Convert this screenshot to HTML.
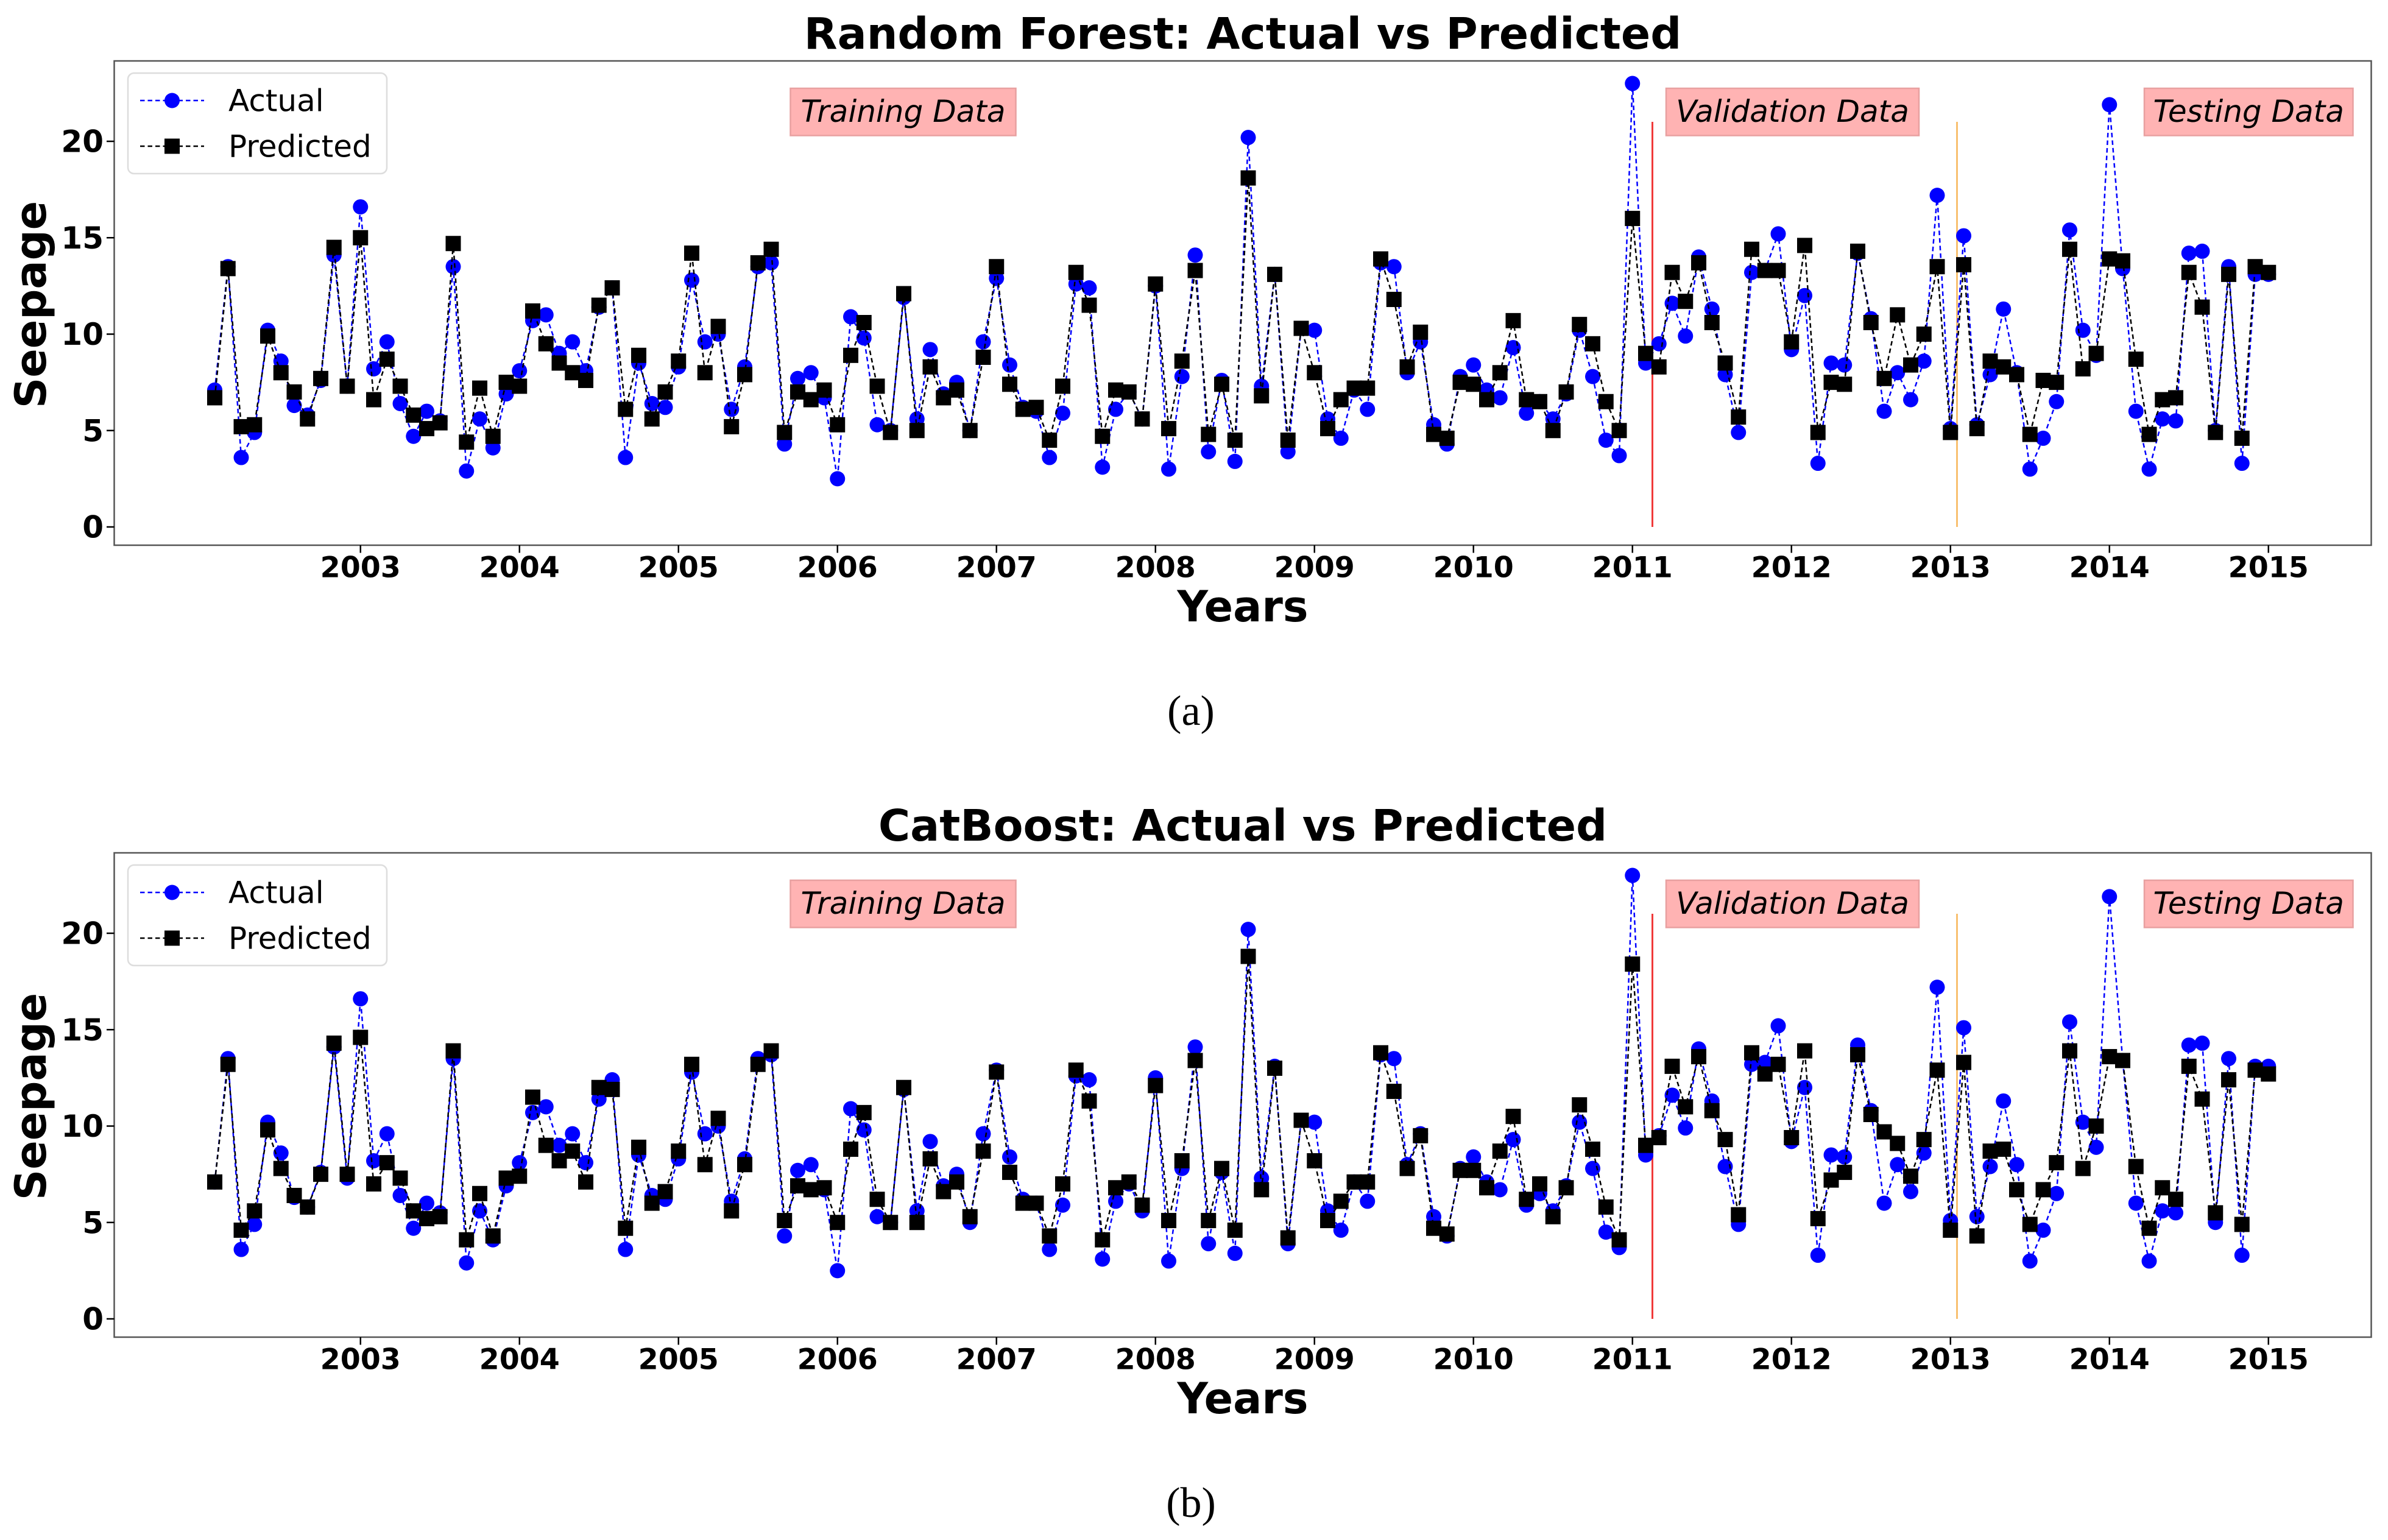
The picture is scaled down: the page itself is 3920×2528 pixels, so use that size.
<!DOCTYPE html>
<html><head><meta charset="utf-8"><style>html,body{margin:0;padding:0;background:#fff}svg{display:block}</style></head>
<body>
<svg id="chart" width="3920" height="2528" viewBox="0 0 1568 1011.2" xmlns="http://www.w3.org/2000/svg" font-family="DejaVu Sans, Liberation Sans, sans-serif"></svg>
<script>
const actual=[7.1,13.5,3.6,4.9,10.2,8.6,6.3,5.8,7.6,14.1,7.3,16.6,8.2,9.6,6.4,4.7,6.0,5.5,13.5,2.9,5.6,4.1,6.9,8.1,10.7,11.0,9.0,9.6,8.1,11.4,12.4,3.6,8.5,6.4,6.2,8.3,12.8,9.6,10.0,6.1,8.3,13.5,13.7,4.3,7.7,8.0,6.7,2.5,10.9,9.8,5.3,5.0,11.9,5.6,9.2,6.9,7.5,5.0,9.6,12.9,8.4,6.2,6.0,3.6,5.9,12.6,12.4,3.1,6.1,7.0,5.6,12.5,3.0,7.8,14.1,3.9,7.6,3.4,20.2,7.3,13.1,3.9,10.3,10.2,5.6,4.6,7.1,6.1,13.7,13.5,8.0,9.6,5.3,4.3,7.8,8.4,7.1,6.7,9.3,5.9,6.5,5.6,6.9,10.2,7.8,4.5,3.7,23.0,8.5,9.5,11.6,9.9,14.0,11.3,7.9,4.9,13.2,13.3,15.2,9.2,12.0,3.3,8.5,8.4,14.2,10.8,6.0,8.0,6.6,8.6,17.2,5.1,15.1,5.3,7.9,11.3,8.0,3.0,4.6,6.5,15.4,10.2,8.9,21.9,13.4,6.0,3.0,5.6,5.5,14.2,14.3,5.0,13.5,3.3,13.1,13.1];
const predRF=[6.7,13.4,5.2,5.3,9.9,8.0,7.0,5.6,7.7,14.5,7.3,15.0,6.6,8.7,7.3,5.8,5.1,5.4,14.7,4.4,7.2,4.7,7.5,7.3,11.2,9.5,8.5,8.0,7.6,11.5,12.4,6.1,8.9,5.6,7.0,8.6,14.2,8.0,10.4,5.2,7.9,13.7,14.4,4.9,7.0,6.6,7.1,5.3,8.9,10.6,7.3,4.9,12.1,5.0,8.3,6.7,7.1,5.0,8.8,13.5,7.4,6.1,6.2,4.5,7.3,13.2,11.5,4.7,7.1,7.0,5.6,12.6,5.1,8.6,13.3,4.8,7.4,4.5,18.1,6.8,13.1,4.5,10.3,8.0,5.1,6.6,7.2,7.2,13.9,11.8,8.3,10.1,4.8,4.6,7.5,7.4,6.6,8.0,10.7,6.6,6.5,5.0,7.0,10.5,9.5,6.5,5.0,16.0,9.0,8.3,13.2,11.7,13.7,10.6,8.5,5.7,14.4,13.3,13.3,9.6,14.6,4.9,7.5,7.4,14.3,10.6,7.7,11.0,8.4,10.0,13.5,4.9,13.6,5.1,8.6,8.3,7.9,4.8,7.6,7.5,14.4,8.2,9.0,13.9,13.8,8.7,4.8,6.6,6.7,13.2,11.4,4.9,13.1,4.6,13.5,13.2];
const predCB=[7.1,13.2,4.6,5.6,9.8,7.8,6.4,5.8,7.5,14.3,7.5,14.6,7.0,8.1,7.3,5.6,5.2,5.3,13.9,4.1,6.5,4.3,7.3,7.4,11.5,9.0,8.2,8.7,7.1,12.0,11.9,4.7,8.9,6.0,6.6,8.7,13.2,8.0,10.4,5.6,8.0,13.2,13.9,5.1,6.9,6.7,6.8,5.0,8.8,10.7,6.2,5.0,12.0,5.0,8.3,6.6,7.1,5.3,8.7,12.8,7.6,6.0,6.0,4.3,7.0,12.9,11.3,4.1,6.8,7.1,5.9,12.1,5.1,8.2,13.4,5.1,7.8,4.6,18.8,6.7,13.0,4.2,10.3,8.2,5.1,6.1,7.1,7.1,13.8,11.8,7.8,9.5,4.7,4.4,7.7,7.7,6.8,8.7,10.5,6.2,7.0,5.3,6.8,11.1,8.8,5.8,4.1,18.4,9.0,9.4,13.1,11.0,13.6,10.8,9.3,5.4,13.8,12.7,13.2,9.4,13.9,5.2,7.2,7.6,13.7,10.6,9.7,9.1,7.4,9.3,12.9,4.6,13.3,4.3,8.7,8.8,6.7,4.9,6.7,8.1,13.9,7.8,10.0,13.6,13.4,7.9,4.7,6.8,6.2,13.1,11.4,5.5,12.4,4.9,12.9,12.7];
const yearLabels=["2003","2004","2005","2006","2007","2008","2009","2010","2011","2012","2013","2014","2015"];
const yTicks=[0,5,10,15,20];
const panelTitles=["Random Forest: Actual vs Predicted","CatBoost: Actual vs Predicted"];
const captions=["(a)","(b)"];

const NS="http://www.w3.org/2000/svg";
const svg=document.getElementById('chart');
function mk(tag,attrs,parent,text){const e=document.createElementNS(NS,tag);for(const k in attrs)e.setAttribute(k,attrs[k]);if(text!==undefined)e.textContent=text;(parent||svg).appendChild(e);return e;}
function xScale(i){return 141+i*(1489.5-141)/155;}
function xYear(k){return xScale(11+12*k);}

function panel(p,pred,off){
  const g=mk('g',{transform:'translate(0,'+off+')'});
  
  
  const y=v=>346-v*12.66;
  const t=mk('text',{x:816,y:32,'text-anchor':'middle','font-size':28.5,'font-weight':'bold'},g,panelTitles[p]);
  
  const fr=mk('rect',{x:75,y:40,width:1482,height:318,fill:'none',stroke:'#555','stroke-width':1},g);
  
  yTicks.forEach(v=>{
    mk('line',{x1:70,x2:75,y1:y(v),y2:y(v),stroke:'#000'},g);
    const l=mk('text',{x:68,y:y(v)+7,'text-anchor':'end','font-size':20,'font-weight':'bold'},g,String(v));
    
  });
  yearLabels.forEach((s,k)=>{
    const x=xYear(k);
    mk('line',{x1:x,x2:x,y1:358,y2:363,stroke:'#000'},g);
    const l=mk('text',{x:x,y:379,'text-anchor':'middle','font-size':19,'font-weight':'bold'},g,s);
    
  });
  const xt=mk('text',{x:816,y:408,'text-anchor':'middle','font-size':28,'font-weight':'bold'},g,'Years');
  
  const yt=mk('text',{x:0,y:0,'text-anchor':'middle','font-size':28,'font-weight':'bold',transform:'translate(30,200) rotate(-90)'},g,'Seepage');
  
  const v1=mk('line',{x1:1085,x2:1085,y1:80,y2:346,stroke:'#f03a3a','stroke-width':1.2},g);
  
  const v2=mk('line',{x1:1285,x2:1285,y1:80,y2:346,stroke:'#f8c070','stroke-width':1.2},g);
  
  [["Training Data",519,148],["Validation Data",1094,166],["Testing Data",1408,137]].forEach(a=>{
    const r=mk('rect',{x:a[1],y:58,width:a[2],height:31,fill:'#ffb3b3',stroke:'#e8a0a0'},g);
    
    const tx=mk('text',{x:a[1]+a[2]/2,y:80,'text-anchor':'middle','font-size':20,'font-style':'italic'},g,a[0]);
    
  });
  const ap=actual.map((v,i)=>xScale(i)+','+y(v)).join(' ');
  const al=mk('polyline',{points:ap,fill:'none',stroke:'#0000ff','stroke-width':1,'stroke-dasharray':'3,2'},g);
  
  actual.forEach((v,i)=>{
    const c=mk('circle',{cx:xScale(i),cy:y(v),r:5,fill:'#0000ff'},g);
    
  });
  const pp=pred.map((v,i)=>xScale(i)+','+y(v)).join(' ');
  const pl=mk('polyline',{points:pp,fill:'none',stroke:'#000','stroke-width':1,'stroke-dasharray':'3,2'},g);
  
  pred.forEach((v,i)=>{
    const s=mk('rect',{x:xScale(i)-5,y:y(v)-5,width:10,height:10,fill:'#000'},g);
    
  });
  const lg=mk('g',{},g);
  
  mk('rect',{x:84,y:48,width:170,height:66,rx:4,fill:'#fff',stroke:'#ddd'},lg);
  mk('line',{x1:92,x2:134,y1:66,y2:66,stroke:'#0000ff','stroke-dasharray':'3,2'},lg);
  mk('circle',{cx:113,cy:66,r:5,fill:'#0000ff'},lg);
  const e1=mk('text',{x:150,y:73,'font-size':20},lg,'Actual');
  
  mk('line',{x1:92,x2:134,y1:96,y2:96,stroke:'#000','stroke-dasharray':'3,2'},lg);
  mk('rect',{x:108,y:91,width:10,height:10,fill:'#000'},lg);
  const e2=mk('text',{x:150,y:103,'font-size':20},lg,'Predicted');
  
  const cp=mk('text',{x:782,y:476,'text-anchor':'middle','font-size':28,'font-family':'Liberation Serif, serif'},g,captions[p]);
  
}
panel(0,predRF,0);
panel(1,predCB,520);
</script>
</body></html>
